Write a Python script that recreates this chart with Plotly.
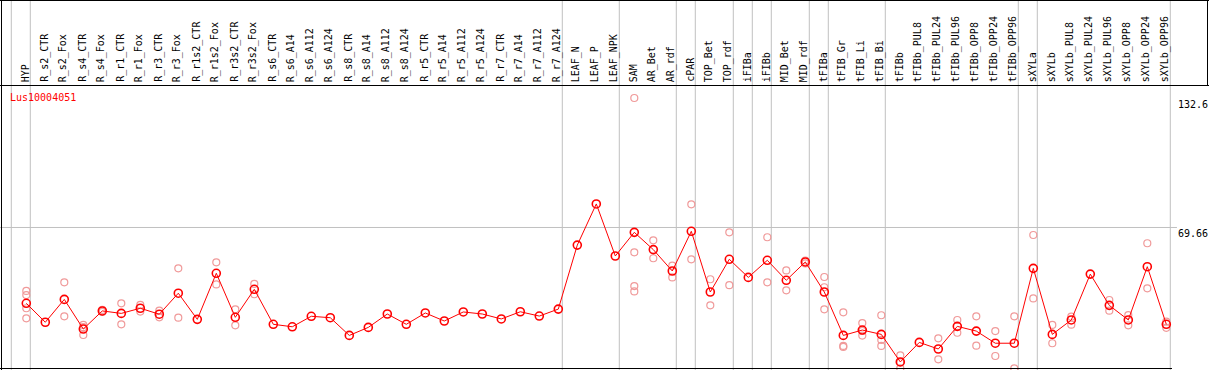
import plotly.graph_objects as go

categories = ["HYP", "R_s2_CTR", "R_s2_Fox", "R_s4_CTR", "R_s4_Fox", "R_r1_CTR", "R_r1_Fox",
              "R_r3_CTR", "R_r3_Fox", "R_r1s2_CTR", "R_r1s2_Fox", "R_r3s2_CTR", "R_r3s2_Fox",
              "R_s6_CTR", "R_s6_A14", "R_s6_A112", "R_s6_A124", "R_s8_CTR", "R_s8_A14", "R_s8_A112",
              "R_s8_A124", "R_r5_CTR", "R_r5_A14", "R_r5_A112", "R_r5_A124", "R_r7_CTR", "R_r7_A14",
              "R_r7_A112", "R_r7_A124", "LEAF_N", "LEAF_P", "LEAF_NPK", "SAM", "AR_Bet", "AR_rdf",
              "cPAR", "TOP_Bet", "TOP_rdf", "iFIBa", "iFIBb", "MID_Bet", "MID_rdf", "tFIBa",
              "tFIB_Gr", "tFIB_Li", "tFIB_Bi", "tFIBb", "tFIBb_PUL8", "tFIBb_PUL24", "tFIBb_PUL96",
              "tFIBb_OPP8", "tFIBb_OPP24", "tFIBb_OPP96", "sXYLa", "sXYLb", "sXYLb_PUL8",
              "sXYLb_PUL24", "sXYLb_PUL96", "sXYLb_OPP8", "sXYLb_OPP24", "sXYLb_OPP96"]

means = [32.8, 23.6, 34.7, 20.3, 29.1, 27.9, 30.4, 27.5, 37.7, 25.0,
         47.4, 26.0, 39.6, 22.6, 21.4, 26.5, 25.8, 17.2, 21.1, 27.6,
         22.6, 28.1, 24.2, 28.6, 27.6, 25.2, 28.7, 26.6, 30.0, 61.1,
         81.1, 55.8, 67.3, 58.9, 48.5, 67.8, 38.3, 54.2, 45.4, 53.7,
         44.0, 52.9, 38.3, 17.2, 19.8, 17.7, 4.3, 13.8, 10.6, 21.6,
         19.3, 13.4, 13.4, 49.8, 17.7, 24.7, 47.0, 31.8, 24.7, 50.6, 22.6]

replicates = [
    [38.8, 36.8, 30.4, 25.5], [], [43.0, 26.5], [22.3, 17.4, 21.2], [29.6, 28.6],
    [32.8, 22.6], [32.0, 28.8], [29.2, 26.0], [49.8, 25.8], [],
    [52.7, 42.0], [29.9, 22.1], [42.2, 37.2], [], [], [], [], [], [], [],
    [], [], [], [], [], [], [], [], [], [],
    [], [], [132.6, 57.6, 41.2, 38.6], [63.4, 54.7], [51.1, 45.4],
    [80.9, 54.2], [44.5, 31.8], [67.3, 41.6], [], [64.9, 43.0],
    [48.8, 39.1], [53.6, 52.2], [45.6, 40.6, 29.9], [28.4, 12.1, 11.6], [23.2, 17.1, 19.4],
    [27.0, 15.0, 12.1], [7.5, 1.2, 4.2], [], [15.8, 5.6], [24.7, 18.5],
    [26.5, 12.2], [19.3, 7.2], [26.5, 1.2], [66.0, 35.2], [22.3, 13.4],
    [26.3, 22.4], [], [34.4, 29.2], [27.1, 22.1], [62.0, 40.1], [23.9, 20.9],
]

# last category of each group (group separators drawn after them)
group_ends = ["HYP", "R_r7_A124", "LEAF_NPK", "AR_rdf", "cPAR", "TOP_rdf", "iFIBa", "iFIBb",
              "MID_rdf", "tFIBa", "tFIB_Bi", "tFIBb_OPP96", "sXYLa", "sXYLb_OPP96"]

y_ticks = [0, 69.66, 132.6]
y_tick_text = ["0", "69.66", "132.6"]
gene = "Lus10004051"

FONT = "DejaVu Sans Mono"
W, H = 1209, 370
xs = list(range(len(categories)))

rx, ry = [], []
for i, reps in enumerate(replicates):
    for v in reps:
        rx.append(i)
        ry.append(v)

fig = go.Figure()
fig.add_trace(go.Scatter(x=rx, y=ry, mode="markers",
                         marker=dict(symbol="circle-open", size=7, color="#f09a9a",
                                     line=dict(width=1.2, color="#f09a9a")),
                         hoverinfo="skip"))
fig.add_trace(go.Scatter(x=xs, y=means, mode="lines+markers",
                         line=dict(color="#ff0000", width=1),
                         marker=dict(symbol="circle-open", size=8, color="#ff0000",
                                     line=dict(width=1.6, color="#ff0000"))))

shapes = []
# vertical group separators
for name in ["__start__"] + group_ends:
    idx = -1 if name == "__start__" else categories.index(name)
    xv = idx + 0.21
    shapes.append(dict(type="line", xref="x", yref="paper", x0=xv, x1=xv, y0=0, y1=1,
                       line=dict(color="#c0c0c0", width=1), layer="below"))
# horizontal grid at middle tick
shapes.append(dict(type="line", xref="paper", yref="y", x0=0, x1=0.9735, y0=y_ticks[1], y1=y_ticks[1],
                   line=dict(color="#c0c0c0", width=1), layer="below"))


def py(px):
    return (H - px) / H


def pxx(px):
    return px / W


blk = dict(color="#000000", width=1)
shapes += [
    dict(type="line", xref="paper", yref="paper", x0=0, x1=1, y0=py(0.5), y1=py(0.5), line=blk),
    dict(type="line", xref="paper", yref="paper", x0=0, x1=1, y0=py(85.5), y1=py(85.5), line=blk),
    dict(type="line", xref="paper", yref="paper", x0=pxx(1.5), x1=pxx(1.5), y0=0, y1=1, line=blk),
    dict(type="line", xref="paper", yref="paper", x0=0, x1=pxx(1172), y0=py(368.5), y1=py(368.5), line=blk),
    dict(type="line", xref="paper", yref="paper", x0=pxx(1207.5), x1=pxx(1207.5), y0=py(85.5), y1=1, line=blk),
]

annotations = []
for i, name in enumerate(categories):
    annotations.append(dict(x=i, y=py(83), xref="x", yref="paper", text=name, showarrow=False,
                            textangle=-90, xanchor="center", yanchor="bottom", xshift=-1,
                            font=dict(family=FONT, size=10, color="#000000"), borderpad=0))
for v, t in zip(y_ticks, y_tick_text):
    annotations.append(dict(x=pxx(1177), y=v, xref="paper", yref="y", text=t, showarrow=False,
                            xanchor="left", yanchor="bottom" if v == 0 else "top",
                            yshift=4 if v == 0 else 0,
                            font=dict(family=FONT, size=10, color="#000000"), borderpad=0))
annotations.append(dict(x=pxx(9), y=py(97), xref="paper", yref="paper", text=gene, showarrow=False,
                        xanchor="left", yanchor="middle", borderpad=0,
                        font=dict(family=FONT, size=10, color="#ff0000")))

x_lo = -26.3 / 19
x_hi = x_lo + W / 19
fig.update_layout(
    width=W, height=H, autosize=False, margin=dict(l=0, r=0, t=0, b=0, pad=0),
    paper_bgcolor="#ffffff", plot_bgcolor="#ffffff", showlegend=False,
    xaxis=dict(range=[x_lo, x_hi], visible=False, fixedrange=True),
    yaxis=dict(range=[0.389, 0.389 + H / 2.0575], visible=False, fixedrange=True),
    shapes=shapes, annotations=annotations,
)

fig.write_html("out.html", config={"displayModeBar": False, "responsive": False},
               post_script="document.body.style.margin='0';document.body.style.overflow='hidden';")
